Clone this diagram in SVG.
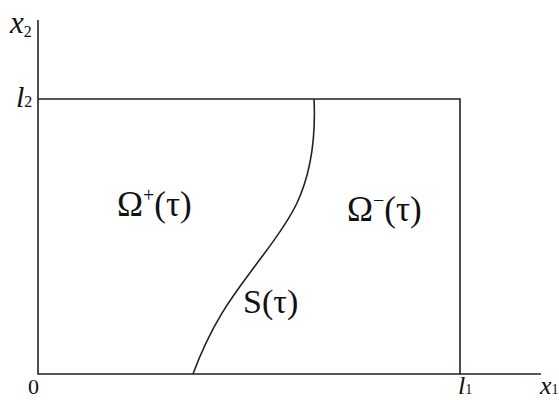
<svg xmlns="http://www.w3.org/2000/svg" width="559" height="400" viewBox="0 0 559 400">
<style>
.ln{stroke:#222;stroke-width:1.6;fill:none}
.t{font-family:"Liberation Serif","DejaVu Serif","Times New Roman",serif;fill:#111}
.it{font-style:italic}
</style>
<rect width="559" height="400" fill="#fff"/>
<g id="axes">
<path class="ln" d="M38 20 V374 H541"/>
<path class="ln" d="M38 99 H460 V374"/>
</g>
<g id="connectors">
<path class="ln" d="M314 99 C316 140 310 175 297 203 C285 228 268 248 255 266 C235 293 213 320 193 374"/>
</g>
<g id="labels">
<text class="t it" x="10" y="33" font-size="31">x<tspan font-size="16" font-style="normal" dy="4">2</tspan></text>
<text class="t it" x="16" y="107" font-size="30">l<tspan font-size="16" font-style="normal">2</tspan></text>
<text class="t" x="28" y="394" font-size="22">0</text>
<text class="t it" x="458" y="394" font-size="26">l<tspan font-size="14" font-style="normal">1</tspan></text>
<text class="t it" x="540" y="394" font-size="26">x<tspan font-size="14" font-style="normal">1</tspan></text>
<text class="t" x="117" y="216" font-size="35">Ω<tspan font-size="20" dy="-14">+</tspan><tspan dy="14">(τ)</tspan></text>
<text class="t" x="347" y="221" font-size="35">Ω<tspan font-size="20" dy="-14">−</tspan><tspan dy="14">(τ)</tspan></text>
<text class="t" x="243" y="313" font-size="34">S(τ)</text>
</g>
</svg>
